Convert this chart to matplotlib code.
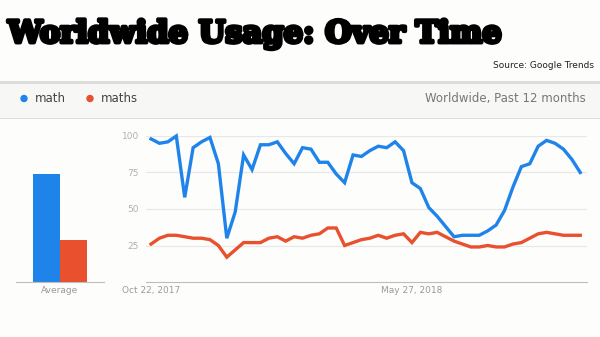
import numpy as np
import matplotlib
matplotlib.use("Agg")
import matplotlib.pyplot as plt
from matplotlib.patches import Rectangle
import matplotlib.patheffects as pe

# weekly interest, Oct 22 2017 .. Oct 14 2018
math_vals = [98, 95, 96, 100, 58, 92, 96, 99, 81, 30,
             48, 87, 77, 94, 94, 96, 88, 81, 92, 91,
             82, 82, 74, 68, 87, 86, 90, 93, 92, 96,
             90, 68, 64, 51, 45, 38, 31, 32, 32, 32,
             35, 39, 49, 65, 79, 81, 93, 97, 95, 91,
             84, 75]
maths_vals = [26, 30, 32, 32, 31, 30, 30, 29, 25, 17,
              22, 27, 27, 27, 30, 31, 28, 31, 30, 32,
              33, 37, 37, 25, 27, 29, 30, 32, 30, 32,
              33, 27, 34, 33, 34, 31, 28, 26, 24, 24,
              25, 24, 24, 26, 27, 30, 33, 34, 33, 32,
              32, 32]
avg_vals = [74, 29]
series_names = ["math", "maths"]
x_ticks = [0, 31]
x_labels = ["Oct 22, 2017", "May 27, 2018"]
y_ticks = [25, 50, 75, 100]

BLUE = "#1f84ea"
RED = "#e8502e"
GRAY = "#9a9a9a"

W, H = 600, 337
fig = plt.figure(figsize=(6, 3.37), dpi=100)
fig.patch.set_facecolor("#fdfdfc")


def fx(px):
    return px / W


def fy(py):
    return 1 - py / H


# header band
fig.patches.append(Rectangle((0, fy(118)), 1, fy(83) - fy(118), transform=fig.transFigure,
                             facecolor="#f7f7f5", edgecolor="none", zorder=0))
fig.patches.append(Rectangle((0, fy(84)), 1, 2.5 / H, transform=fig.transFigure,
                             facecolor="#dcdcdc", edgecolor="none", zorder=1))
fig.patches.append(Rectangle((0, fy(119)), 1, 1.5 / H, transform=fig.transFigure,
                             facecolor="#dedede", edgecolor="none", zorder=1))

fig.text(fx(8), fy(34), "Worldwide Usage: Over Time", fontsize=22, fontweight="heavy",
         family="DejaVu Serif", va="center", ha="left",
         path_effects=[pe.withStroke(linewidth=2.8, foreground="black")])
fig.text(fx(594), fy(66), "Source: Google Trends", fontsize=6.5, ha="right", va="center",
         color="#222222")

# legend row
for cx, name, col in [(24, series_names[0], BLUE), (90, series_names[1], RED)]:
    fig.patches.append(matplotlib.patches.Ellipse((fx(cx), fy(98.5)), 6 / W, 6 / H,
                                                  transform=fig.transFigure, color=col, zorder=2))
    fig.text(fx(cx + 11), fy(98.5), name, fontsize=8.5, color="#444444", va="center", ha="left")
fig.text(fx(586), fy(98.5), "Worldwide, Past 12 months", fontsize=8.5, color="#777777",
         va="center", ha="right")

# average bars
bottom = fy(282)
height = fy(136) - fy(282)
axb = fig.add_axes([fx(16), bottom, fx(88), height])
axb.set_facecolor("none")
axb.bar([0, 1], avg_vals, width=1.0, color=[BLUE, RED])
axb.set_xlim(-1.13, -1.13 + 88 / 27)
axb.set_ylim(0, 100)
axb.set_xticks([0.5])
axb.set_xticklabels(["Average"], fontsize=6.5, color=GRAY)
axb.tick_params(length=0, pad=3)
axb.set_yticks([])
for s in ["top", "left", "right"]:
    axb.spines[s].set_visible(False)
axb.spines["bottom"].set_color("#bdbdbd")

# main line chart
ax = fig.add_axes([fx(146), bottom, fx(441), height])
ax.set_facecolor("none")
x = np.arange(len(math_vals))
ax.plot(x, math_vals, color=BLUE, lw=2.4, clip_on=False, zorder=3, solid_joinstyle="miter")
ax.plot(x, maths_vals, color=RED, lw=2.4, clip_on=False, zorder=3, solid_joinstyle="miter")
ax.set_xlim(-0.6, 51.8)
ax.set_ylim(0, 100)
ax.set_yticks(y_ticks)
ax.set_yticklabels([str(v) for v in y_ticks], fontsize=6.5, color="#b0b0b0")
ax.set_xticks(x_ticks)
ax.set_xticklabels(x_labels, fontsize=6.5, color=GRAY)
ax.tick_params(length=0)
ax.tick_params(axis="y", pad=5)
ax.tick_params(axis="x", pad=3)
ax.grid(axis="y", color="#e8e8e8", lw=0.9)
ax.set_axisbelow(True)
for s in ["top", "left", "right"]:
    ax.spines[s].set_visible(False)
ax.spines["bottom"].set_color("#bdbdbd")

fig.savefig("out.png", dpi=100, facecolor=fig.get_facecolor())
